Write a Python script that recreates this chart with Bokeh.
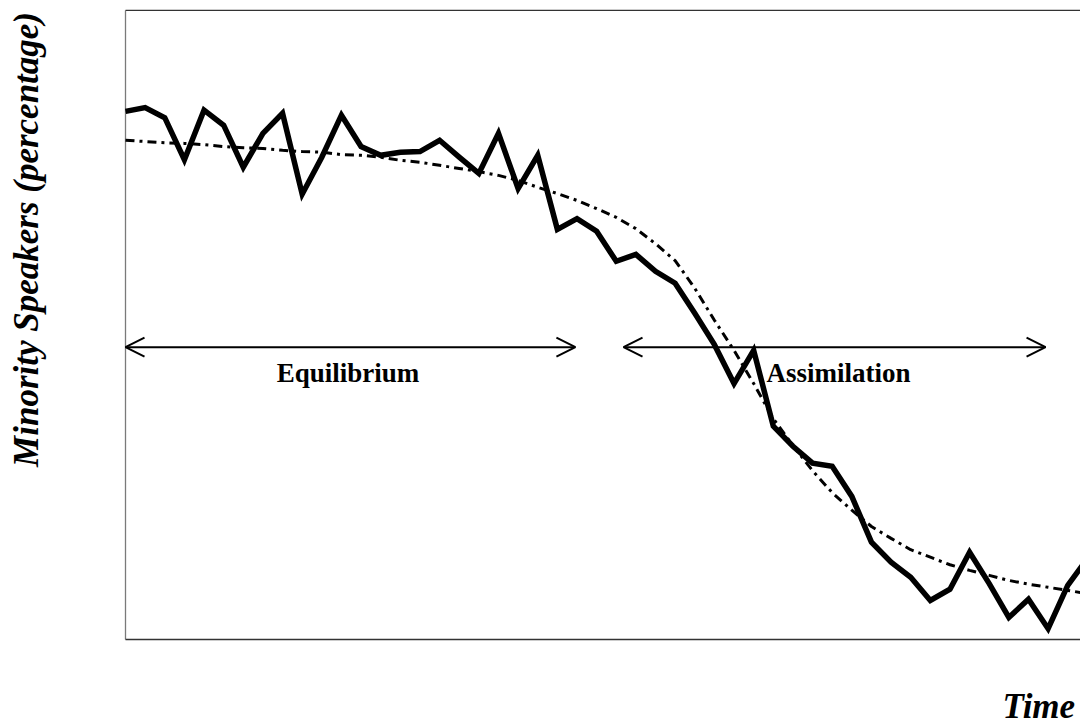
import math
from bokeh.plotting import figure
from bokeh.models import Range1d, Label, Arrow, OpenHead
from bokeh.embed import file_html
from bokeh.resources import INLINE

# ---- data ----
time = list(range(50))
speakers = [83.9, 84.5, 82.9, 76.2, 84.1, 81.7, 75.0, 80.4, 83.6, 70.7,
            76.6, 83.3, 78.3, 76.9, 77.4, 77.5, 79.3, 76.6, 74.0, 80.4,
            71.6, 76.9, 65.1, 66.8, 64.8, 60.0, 61.1, 58.4, 56.5, 51.7,
            46.7, 40.5, 45.8, 33.7, 30.5, 27.8, 27.3, 22.5, 15.2, 12.0,
            9.6, 5.9, 7.7, 13.6, 8.6, 3.2, 6.1, 1.4, 8.3, 12.6]
trend = [79.3, 79.1, 78.9, 78.8, 78.6, 78.3, 78.1, 78.0, 77.7, 77.5,
         77.4, 77.0, 76.9, 76.6, 76.1, 75.8, 75.3, 74.8, 74.3, 73.7,
         72.9, 71.8, 70.8, 69.7, 68.4, 67.0, 65.2, 62.8, 60.1, 55.7,
         50.6, 45.8, 40.5, 34.9, 30.6, 26.6, 23.1, 20.3, 17.7, 15.8,
         14.0, 12.8, 11.6, 10.7, 9.9, 9.1, 8.5, 8.0, 7.5, 7.0]
phase_names = ["Equilibrium", "Assimilation"]
phase_start = [0.0, 25.37]
phase_end = [22.92, 46.87]
phase_level = 46.3
x_label = "Time"
y_label = "Minority Speakers (percentage)"

# plotting-area box (data units) and visible view window
box_x0, box_x1 = 0.0, 49.5
box_y0, box_y1 = -0.32, 100.0
view_x = (-6.368, 48.65)
view_y = (-14.04, 101.59)

SERIF = "Liberation Serif"

p = figure(width=1080, height=725, output_backend="svg", toolbar_location=None,
           tools="", x_range=Range1d(*view_x), y_range=Range1d(*view_y),
           min_border_left=0, min_border_top=0, min_border_right=0,
           min_border_bottom=0)
p.grid.visible = False
p.axis.visible = False
p.outline_line_color = None
p.background_fill_color = "white"
p.border_fill_color = "white"

# box borders (left grey, top and bottom dark; right edge falls outside view)
p.segment(x0=[box_x0], y0=[box_y0], x1=[box_x0], y1=[box_y1],
          line_color="#7a7a7a", line_width=1.3)
p.segment(x0=[box_x0, box_x0], y0=[box_y1, box_y0], x1=[box_x1, box_x1],
          y1=[box_y1, box_y0], line_color="#333333", line_width=1.3)

# trend (dash-dot) and observed series (thick solid)
p.line(time, trend, line_color="black", line_width=3, line_dash="9 5 3 5")
p.line(time, speakers, line_color="black", line_width=5.5, line_join="miter")

# phase arrows and labels
for name, s, e in zip(phase_names, phase_start, phase_end):
    p.add_layout(Arrow(x_start=s, y_start=phase_level, x_end=e, y_end=phase_level,
                       line_color="black", line_width=2,
                       start=OpenHead(size=19, line_width=2, line_color="black"),
                       end=OpenHead(size=19, line_width=2, line_color="black")))

p.add_layout(Label(x=11.33, y=42.2, text=phase_names[0], text_align="center",
                   text_baseline="alphabetic", text_font=SERIF,
                   text_font_style="bold", text_font_size="27px",
                   text_color="black"))
p.add_layout(Label(x=32.65, y=42.2, text=phase_names[1], text_align="left",
                   text_baseline="alphabetic", text_font=SERIF,
                   text_font_style="bold", text_font_size="27px",
                   text_color="black"))

# axis titles placed like the reference
p.add_layout(Label(x=-5.05, y=63.48, text=y_label, angle=math.pi / 2,
                   text_align="center", text_baseline="middle", text_font=SERIF,
                   text_font_style="bold italic", text_font_size="35px",
                   text_color="black"))
p.add_layout(Label(x=44.68, y=-11.06, text=x_label, text_align="left",
                   text_baseline="alphabetic", text_font=SERIF,
                   text_font_style="bold italic", text_font_size="35px",
                   text_color="black"))

open("out.html", "w").write(file_html(p, INLINE))
